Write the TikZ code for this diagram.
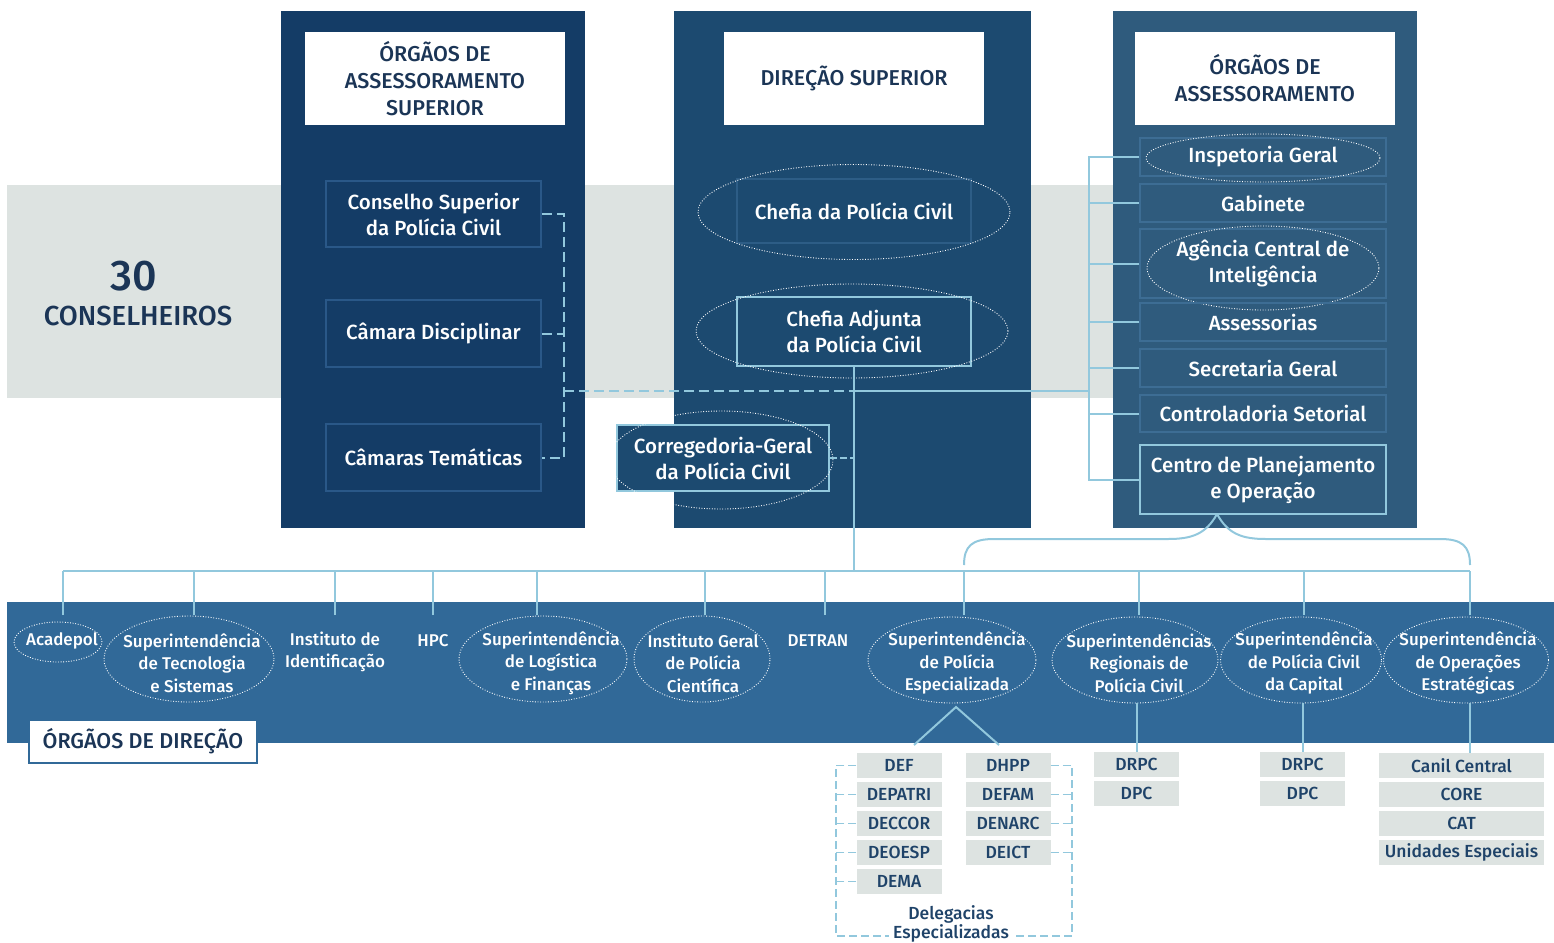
\documentclass[tikz,border=0pt]{standalone}
\usepackage{fontspec}
\setmainfont{Fira Sans Medium}
\usetikzlibrary{shapes.geometric}
\definecolor{colA}{HTML}{143C66}
\definecolor{colB}{HTML}{1C4A70}
\definecolor{colC}{HTML}{2F5B7D}
\definecolor{colD}{HTML}{316998}
\definecolor{grayband}{HTML}{DDE3E1}
\definecolor{lineblue}{HTML}{92C8DD}
\definecolor{titlec}{HTML}{1B3556}
\definecolor{gboxc}{HTML}{DDE3E1}
\definecolor{gtext}{HTML}{1F4369}
\definecolor{borderA}{HTML}{2A5888}
\definecolor{borderB}{HTML}{2D5D86}
\definecolor{borderC}{HTML}{3D6D94}
\newcommand\myfs[2]{\fontsize{#1}{#2}\selectfont}
\begin{document}
\begin{tikzpicture}[x=1pt,y=-1pt,
  titlebox/.style={fill=white, text=titlec, font=\myfs{21.5}{27}, align=center, inner sep=0pt, minimum width=260pt, minimum height=93pt},
  wbox/.style={text=white, font=\myfs{20.5}{26}, align=center, inner sep=0pt, line width=1.5pt},
  abox/.style={wbox, draw=borderA, minimum width=215pt, minimum height=66pt},
  rbox/.style={wbox, draw=borderC, minimum width=246pt, minimum height=38pt},
  hbox/.style={wbox, draw=lineblue, line width=2pt},
  oval/.style={ellipse, draw=white, line width=0.9pt, dash pattern=on 0.9pt off 1.7pt, inner sep=0pt},
  btext/.style={text=white, font=\myfs{17}{22.5}, align=center, inner sep=0pt},
  gbox/.style={fill=gboxc, text=gtext, font=\myfs{17.5}{20}, inner sep=0pt, minimum width=85pt, minimum height=25pt},
  conn/.style={draw=lineblue, line width=2pt},
  dconn/.style={conn, dash pattern=on 10pt off 5pt},
  sconn/.style={draw=lineblue, line width=1.6pt, dash pattern=on 8pt off 4pt},
]
\useasboundingbox (0,0) rectangle (1554,942);
% grey band
\fill[grayband] (7,185) rectangle (1113,398);
\node[font=\myfs{43}{43}, text=titlec, inner sep=0pt] (n30) at (134,276) {30};
\node[font=\myfs{27.5}{28}, text=titlec, inner sep=0pt] (ncons) at (138,316) {CONSELHEIROS};
% columns
\fill[colA] (281,11) rectangle (585,528);
\fill[colB] (674,11) rectangle (1031,528);
\fill[colC] (1113,11) rectangle (1417,528);
\fill[colD] (7,602) rectangle (1554,743);
% titles
\node[titlebox] (tA) at (435,78.5) {ÓRGÃOS DE\\ASSESSORAMENTO\\SUPERIOR};
\node[titlebox] (tB) at (854,78.5) {DIREÇÃO SUPERIOR};
\node[titlebox] (tC) at (1265,78.5) {ÓRGÃOS DE\\ASSESSORAMENTO};
% left column
\node[abox] (csup) at (433.5,214) {Conselho Superior\\da Polícia Civil};
\node[abox, minimum height=67pt] (cdis) at (433.5,333.5) {Câmara Disciplinar};
\node[abox, minimum height=67pt] (ctem) at (433.5,457.5) {Câmaras Temáticas};
% middle column
\node[wbox, draw=borderB, minimum width=234pt, minimum height=64pt] (chef) at (854,211) {Chefia da Polícia Civil};
\node[oval, minimum width=312pt, minimum height=95pt] (echef) at (854,212) {};
\node[hbox, fill=colB, minimum width=234pt, minimum height=69pt] (adj) at (854,331.5) {Chefia Adjunta\\da Polícia Civil};
\node[oval, minimum width=312pt, minimum height=94pt] (eadj) at (852,331) {};
\node[hbox, fill=colB, minimum width=212pt, minimum height=66pt] (corr) at (723,458) {Corregedoria-Geral\\da Polícia Civil};
\node[oval, minimum width=224pt, minimum height=98pt] (ecorr) at (721,460) {};
% right column
\node[rbox] (insp) at (1263,157) {Inspetoria Geral};
\node[oval, minimum width=234pt, minimum height=48pt] (einsp) at (1263,158) {};
\node[rbox] (gab) at (1263,203) {Gabinete};
\node[rbox, minimum height=69pt] (agen) at (1263,263.5) {Agência Central de\\Inteligência};
\node[oval, minimum width=232pt, minimum height=84pt] (eagen) at (1263,268) {};
\node[rbox] (asse) at (1263,322) {Assessorias};
\node[rbox] (secr) at (1263,368) {Secretaria Geral};
\node[rbox, minimum height=37pt] (cont) at (1263,413.5) {Controladoria Setorial};
\node[hbox, minimum width=246pt, minimum height=69pt] (cpo) at (1263,479.5) {Centro de Planejamento\\e Operação};
% helper coordinates
\coordinate (lbx) at (564,0);
\coordinate (rbx) at (1089,0);
\coordinate (hl) at (564,391);
\coordinate (bus) at (0,571);
% left dashed bracket
\draw[dconn] (csup.east) -- (csup.east -| lbx) -- (ctem.east -| lbx) -- (ctem.east);
\draw[dconn] (cdis.east) -- (cdis.east -| lbx);
\draw[dconn] (hl) -- (hl -| adj.south);
\draw[conn] (hl -| adj.south) -- (hl -| rbx);
% right bracket
\draw[conn] (insp.west) -- (insp.west -| rbx) -- (cpo.west -| rbx) -- (cpo.west);
\foreach \n in {gab,agen,asse,secr,cont} \draw[conn] (\n.west) -- (\n.west -| rbx);
% chefia adjunta down
\draw[conn] (adj.south) -- (adj.south |- bus);
\draw[conn, dash pattern=on 7pt off 3pt] (corr.east) -- (corr.east -| adj.south);
% bottom band
\node[fill=white, draw=colD, line width=1.5pt, text=titlec, font=\myfs{21.5}{24}, minimum width=228pt, minimum height=43pt, inner sep=0pt] (odir) at (143,741.5) {ÓRGÃOS DE DIREÇÃO};
\node[btext] (acad) at (62,641) {Acadepol};
\node[oval, minimum width=88pt, minimum height=40pt] (eacad) at (58,642) {};
\node[btext] (stec) at (192,663) {Superintendência\\de Tecnologia\\e Sistemas};
\node[oval, minimum width=170pt, minimum height=86pt] (estec) at (189,659) {};
\node[btext] (iid) at (335,652) {Instituto de\\Identificação};
\node[btext] (hpc) at (433,641) {HPC};
\node[btext] (slog) at (551,663) {Superintendência\\de Logística\\e Finanças};
\node[oval, minimum width=168pt, minimum height=86pt] (eslog) at (543,659) {};
\node[btext] (igp) at (703,663) {Instituto Geral\\de Polícia\\Científica};
\node[oval, minimum width=136pt, minimum height=86pt] (eigp) at (702,659) {};
\node[btext] (detran) at (818,641) {DETRAN};
\node[btext] (spe) at (957,663) {Superintendência\\de Polícia\\Especializada};
\node[oval, minimum width=168pt, minimum height=86pt] (espe) at (952,660) {};
\node[btext] (sreg) at (1139,663) {Superintendências\\Regionais de\\Polícia Civil};
\node[oval, minimum width=166pt, minimum height=86pt] (esreg) at (1135,660) {};
\node[btext] (scap) at (1304,663) {Superintendência\\de Polícia Civil\\da Capital};
\node[oval, minimum width=161pt, minimum height=86pt] (escap) at (1301,660) {};
\node[btext] (sope) at (1468,663) {Superintendência\\de Operações\\Estratégicas};
\node[oval, minimum width=165pt, minimum height=86pt] (esope) at (1466,660) {};
% drops from bus
\coordinate (dacad) at (63,615);
\coordinate (dstec) at (194,615);
\coordinate (diid) at (335,615);
\coordinate (dhpc) at (433,615);
\coordinate (dslog) at (537,615);
\coordinate (digp) at (705,615);
\coordinate (ddetran) at (825,615);
\coordinate (dspe) at (964,615);
\coordinate (dsreg) at (1139,615);
\coordinate (dscap) at (1304,615);
\coordinate (dsope) at (1470,615);
\draw[conn] (dacad |- bus) -- (dsope |- bus);
\foreach \n in {dacad,dstec,diid,dhpc,dslog,digp,ddetran,dspe,dsreg,dscap,dsope} \draw[conn] (\n) -- (\n |- bus);
% brace from CPO
\coordinate (apex) at (1217,514);
\draw[conn] (apex) .. controls (1206,534) and (1192,539) .. (1168,539) -- (994,539) .. controls (972,539) and (964,546) .. (964,565);
\draw[conn] (apex) .. controls (1228,534) and (1242,539) .. (1266,539) -- (1440,539) .. controls (1462,539) and (1470,546) .. (1470,565);
% grey boxes
\node[gbox] (def) at (899,765.5) {DEF};
\node[gbox] (depatri) at (899,794.5) {DEPATRI};
\node[gbox] (deccor) at (899,823.5) {DECCOR};
\node[gbox] (deoesp) at (899,852.5) {DEOESP};
\node[gbox] (dema) at (899,881.5) {DEMA};
\node[gbox] (dhpp) at (1008,765.5) {DHPP};
\node[gbox] (defam) at (1008,794.5) {DEFAM};
\node[gbox] (denarc) at (1008,823.5) {DENARC};
\node[gbox] (deict) at (1008,852.5) {DEICT};
\node[gbox] (drpca) at (1136.5,764.5) {DRPC};
\node[gbox] (dpca) at (1136.5,793.5) {DPC};
\node[gbox] (drpcb) at (1302.5,764.5) {DRPC};
\node[gbox] (dpcb) at (1302.5,793.5) {DPC};
\node[gbox, minimum width=165pt] (canil) at (1461.5,765.5) {Canil Central};
\node[gbox, minimum width=165pt] (core) at (1461.5,794.5) {CORE};
\node[gbox, minimum width=165pt] (cat) at (1461.5,823.5) {CAT};
\node[gbox, minimum width=165pt] (unid) at (1461.5,852.5) {Unidades Especiais};
\node[text=gtext, font=\myfs{17.5}{16.5}, align=center, inner sep=0pt, inner xsep=4pt] (deleg) at (951,924) {Delegacias\\Especializadas};
% SPE V
\coordinate (vL) at (914,745);
\coordinate (vR) at (999,745);
\coordinate (speb) at (956,707);
\draw[conn] (vL) -- (speb) -- (vR);
% vertical links
\draw[conn] (drpca.north) -- (drpca.north |- esreg.south);
\draw[conn] (drpcb.north) -- (drpcb.north |- escap.south);
\draw[conn] (canil.north -| dsope) -- (dsope |- esope.south);
% delegacias bracket
\coordinate (dlx) at (836,0);
\coordinate (drx) at (1072,0);
\coordinate (dbot) at (0,936);
\draw[sconn] (def.west) -- (def.west -| dlx) -- (dlx |- dbot) -- (dbot -| deleg.west);
\foreach \n in {depatri,deccor,deoesp,dema} \draw[sconn] (\n.west) -- (\n.west -| dlx);
\draw[sconn] (dhpp.east) -- (dhpp.east -| drx) -- (drx |- dbot) -- (dbot -| deleg.east);
\foreach \n in {defam,denarc,deict} \draw[sconn] (\n.east) -- (\n.east -| drx);
\end{tikzpicture}
\end{document}
